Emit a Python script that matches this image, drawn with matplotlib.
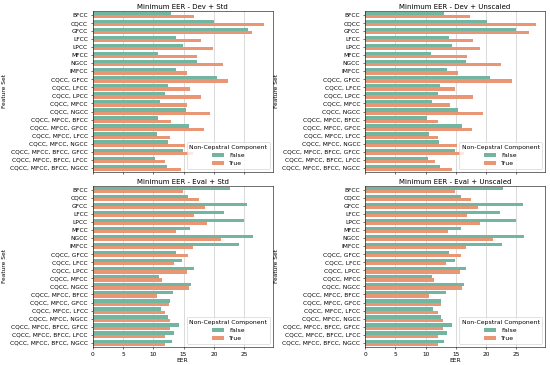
# Minimum EER per feature set, with/without non-cepstral component
import numpy as np
import pandas as pd
import matplotlib
matplotlib.use("Agg")
import matplotlib.pyplot as plt
import seaborn as sns

feature_sets = ["BFCC", "CQCC", "GFCC", "LFCC", "LPCC", "MFCC", "NGCC", "IMFCC",
                "CQCC, GFCC", "CQCC, LFCC", "CQCC, LPCC", "CQCC, MFCC", "CQCC, NGCC",
                "CQCC, MFCC, BFCC", "CQCC, MFCC, GFCC", "CQCC, MFCC, LFCC",
                "CQCC, MFCC, NGCC", "CQCC, MFCC, BFCC, GFCC",
                "CQCC, MFCC, BFCC, LFCC", "CQCC, MFCC, BFCC, NGCC"]

# EER values, without (False) and with (True) the non-cepstral component
dev_std_false = [12.9, 20.1, 25.6, 13.7, 14.9, 10.8, 17.2, 13.8, 20.5, 12.4,
                 12.0, 11.1, 15.4, 10.8, 15.9, 10.6, 12.4, 14.9, 10.3, 12.3]
dev_std_true = [16.7, 28.3, 26.3, 17.8, 19.9, 17.3, 21.5, 15.6, 22.4, 16.0,
                17.8, 15.5, 19.4, 13.0, 18.4, 12.8, 15.3, 16.6, 12.0, 14.6]

dev_unscaled_false = [13.1, 20.2, 24.9, 13.8, 14.3, 10.9, 16.6, 13.5, 20.6, 12.4,
                      12.1, 11.0, 15.3, 10.3, 16.0, 10.6, 12.2, 14.8, 10.4, 12.4]
dev_unscaled_true = [17.3, 28.3, 27.0, 17.8, 18.9, 16.9, 22.4, 15.3, 24.2, 14.8,
                     17.9, 14.0, 19.5, 12.1, 17.6, 12.1, 15.2, 16.4, 11.6, 14.3]

eval_std_false = [22.6, 15.8, 25.5, 21.7, 24.9, 16.1, 26.5, 24.2, 13.7, 14.8,
                  16.7, 11.0, 16.3, 13.3, 12.7, 11.3, 12.4, 14.2, 13.5, 13.1]
eval_std_true = [14.9, 17.5, 18.5, 16.7, 18.8, 13.7, 21.2, 16.6, 15.7, 13.4,
                 15.6, 11.4, 15.9, 10.6, 12.6, 12.0, 12.8, 12.7, 11.9, 12.0]

eval_unscaled_false = [22.8, 15.9, 26.0, 22.3, 25.0, 15.9, 26.3, 22.6, 13.8, 14.8,
                       16.7, 11.1, 16.4, 13.3, 12.6, 11.3, 12.5, 14.3, 13.6, 13.1]
eval_unscaled_true = [14.8, 17.5, 18.6, 16.8, 18.9, 13.7, 21.2, 16.6, 15.8, 13.4,
                      15.7, 11.4, 16.0, 10.6, 12.6, 12.1, 12.8, 12.8, 12.0, 12.1]

titles = ["Minimum EER - Dev + Std", "Minimum EER - Dev + Unscaled",
          "Minimum EER - Eval + Std", "Minimum EER - Eval + Unscaled"]
panels = [(dev_std_false, dev_std_true),
          (dev_unscaled_false, dev_unscaled_true),
          (eval_std_false, eval_std_true),
          (eval_unscaled_false, eval_unscaled_true)]


def make_frame(vals_false, vals_true):
    df_f = pd.DataFrame({"Feature Set": feature_sets, "EER": vals_false,
                         "Non-Cepstral Component": "False"})
    df_t = pd.DataFrame({"Feature Set": feature_sets, "EER": vals_true,
                         "Non-Cepstral Component": "True"})
    return pd.concat([df_f, df_t], ignore_index=True)


fig, axes = plt.subplots(2, 2, figsize=(11, 7.3), dpi=50, sharex=True)
fig.subplots_adjust(left=0.1685, right=0.991, top=0.970, bottom=0.05,
                    wspace=0.513, hspace=0.087)

for ax, title, (vf, vt) in zip(axes.flat, titles, panels):
    df = make_frame(vf, vt)
    sns.barplot(data=df, x="EER", y="Feature Set", hue="Non-Cepstral Component",
                hue_order=["False", "True"], palette="Set2", orient="h", ax=ax)
    ax.set_title(title, fontsize=10, pad=3)
    ax.grid(axis="x", color="#cccccc", linewidth=1)
    ax.set_axisbelow(True)
    ax.tick_params(labelsize=8.5)
    ax.set_ylabel("Feature Set", fontsize=8.5)
    ax.set_xlabel("EER", fontsize=8.5, labelpad=2)
    ax.legend(title="Non-Cepstral Component", loc="lower right",
              fontsize=8.8, title_fontsize=8.8)

for ax in axes[0]:
    ax.set_xlabel("")

fig.savefig("out.png", dpi=50)
